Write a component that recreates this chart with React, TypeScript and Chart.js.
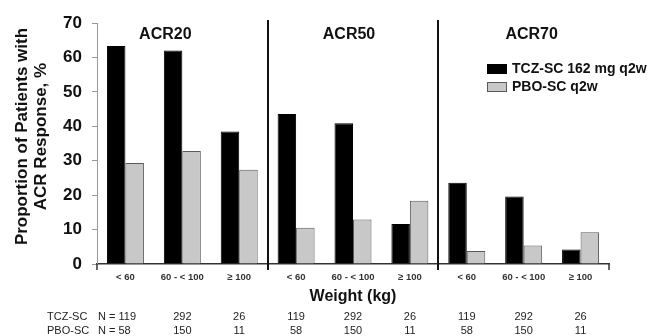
import React, { useEffect, useRef } from "react";
import { Chart, registerables } from "chart.js";

Chart.register(...registerables);

const FONT = "'Liberation Sans', Arial, Helvetica, sans-serif";

const categories = ["< 60", "60 - < 100", "≥ 100", "< 60", "60 - < 100", "≥ 100", "< 60", "60 - < 100", "≥ 100"];
const panels = ["ACR20", "ACR50", "ACR70"];
const tczValues = [63.3, 62.0, 38.5, 43.6, 40.9, 11.6, 23.6, 19.6, 4.2];
const pboValues = [29.3, 32.8, 27.4, 10.5, 12.9, 18.4, 3.8, 5.4, 9.2];
const tczN = ["N = 119", "292", "26", "119", "292", "26", "119", "292", "26"];
const pboN = ["N = 58", "150", "11", "58", "150", "11", "58", "150", "11"];
const seriesNames = ["TCZ-SC 162 mg q2w", "PBO-SC q2w"];
const rowNames = ["TCZ-SC", "PBO-SC"];
const yTitle = ["Proportion of Patients with", "ACR Response, %"];

const overlay = {
  id: "overlay",
  afterDraw(chart: any) {
    const { ctx, chartArea, scales } = chart;
    const xs = scales.x;
    const px = (i: number) => xs.getPixelForValue(i);
    ctx.save();
    // panel separators
    ctx.strokeStyle = "#111";
    ctx.lineWidth = 2;
    [2, 5].forEach((i) => {
      const x = Math.round((px(i) + px(i + 1)) / 2);
      ctx.beginPath();
      ctx.moveTo(x, chartArea.top - 3);
      ctx.lineTo(x, chartArea.bottom + 6);
      ctx.stroke();
    });
    // end ticks on x axis
    ctx.strokeStyle = "#333";
    ctx.lineWidth = 1.5;
    [chartArea.left, chartArea.right].forEach((x: number) => {
      ctx.beginPath();
      ctx.moveTo(x, chartArea.bottom);
      ctx.lineTo(x, chartArea.bottom + 6);
      ctx.stroke();
    });
    // panel titles
    ctx.fillStyle = "#111";
    ctx.font = `bold 16px ${FONT}`;
    ctx.textAlign = "center";
    ctx.textBaseline = "middle";
    const titleOffsets = [-17, -4, 8];
    panels.forEach((p, k) => {
      ctx.fillText(p, px(k * 3 + 1) + titleOffsets[k], chartArea.top + 12);
    });
    // legend
    const colors = [chart.data.datasets[0], chart.data.datasets[1]];
    const lx = 487;
    const ly = [69, 87];
    ctx.font = `bold 14px ${FONT}`;
    ctx.textAlign = "left";
    seriesNames.forEach((name, k) => {
      ctx.fillStyle = colors[k].backgroundColor;
      ctx.fillRect(lx, ly[k] - 5, 20, 10);
      ctx.strokeStyle = colors[k].borderColor;
      ctx.lineWidth = 1;
      ctx.strokeRect(lx + 0.5, ly[k] - 4.5, 19, 9);
      ctx.fillStyle = "#111";
      ctx.fillText(name, lx + 25, ly[k]);
    });
    // N table
    ctx.font = `11px ${FONT}`;
    ctx.fillStyle = "#222";
    const rows = [tczN, pboN];
    const rowY = [317, 331];
    rows.forEach((row, r) => {
      ctx.textAlign = "left";
      ctx.fillText(rowNames[r], chartArea.left - 50, rowY[r]);
      row.forEach((v, i) => {
        if (i === 0) {
          ctx.textAlign = "left";
          ctx.fillText(v, chartArea.left + 1, rowY[r]);
        } else {
          ctx.textAlign = "center";
          ctx.fillText(v, px(i), rowY[r]);
        }
      });
    });
    // y axis title
    ctx.font = `bold 17px ${FONT}`;
    ctx.fillStyle = "#111";
    ctx.textAlign = "center";
    const cy = (chartArea.top + chartArea.bottom) / 2 - 7;
    ctx.translate(0, cy);
    ctx.rotate(-Math.PI / 2);
    ctx.fillText(yTitle[0], 0, 22);
    ctx.fillText(yTitle[1], 0, 41);
    ctx.restore();
  },
};

export default function App() {
  const ref = useRef<HTMLCanvasElement | null>(null);
  useEffect(() => {
    document.body.style.margin = "0";
    const chart = new Chart(ref.current as HTMLCanvasElement, {
      type: "bar",
      data: {
        labels: categories,
        datasets: [
          {
            label: seriesNames[0],
            data: tczValues,
            backgroundColor: "#000000",
            borderColor: "#000000",
            borderWidth: 1,
            categoryPercentage: 0.65,
            barPercentage: 1,
          },
          {
            label: seriesNames[1],
            data: pboValues,
            backgroundColor: "#c8c8c8",
            borderColor: "#5a5a5a",
            borderWidth: 1,
            categoryPercentage: 0.65,
            barPercentage: 1,
          },
        ],
      },
      options: {
        animation: false,
        responsive: false,
        maintainAspectRatio: false,
        devicePixelRatio: 1,
        layout: { padding: { top: 23, right: 40, bottom: 30, left: 0 } },
        plugins: { legend: { display: false }, tooltip: { enabled: false } },
        scales: {
          x: {
            grid: { display: true, drawOnChartArea: false, drawTicks: false, color: "#333" },
            border: { color: "#333", width: 1.5 },
            ticks: { font: { family: FONT, size: 9.5, weight: "bold" }, color: "#333", padding: 8, maxRotation: 0, autoSkip: false },
            title: { display: true, text: "Weight (kg)", font: { family: FONT, size: 16, weight: "bold" }, color: "#111", padding: { top: 0, bottom: 0 } },
            afterFit: (s: any) => { s.height = 42; },
          },
          y: {
            min: 0,
            max: 70,
            ticks: { stepSize: 10, font: { family: FONT, size: 17, weight: "bold" }, color: "#111", padding: 10 },
            grid: { drawOnChartArea: false, drawTicks: true, tickLength: 5, color: "#999" },
            border: { color: "#999", width: 1 },
            afterFit: (s: any) => { s.width = 97; },
          },
        },
      },
      plugins: [overlay],
    });
    return () => chart.destroy();
  }, []);
  return <canvas ref={ref} width={649} height={336} style={{ display: "block" }} />;
}
